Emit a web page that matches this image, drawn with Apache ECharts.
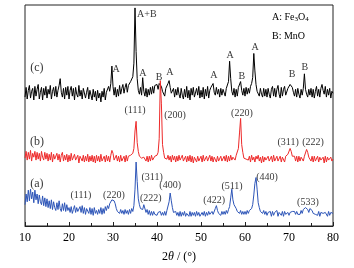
<!DOCTYPE html>
<html lang="en">
<head>
    <meta charset="UTF-8">
    <title>XRD</title>
    <script src="https://cdn.jsdelivr.net/npm/echarts@6/dist/echarts.min.js"></script>
    <style>
        html, body { margin: 0; padding: 0; background: #fff; }
    </style>
</head>
<body>
<div id="main" style="width: 354px;height:268px;"></div>
<script>
    // 2theta grid: 10..80 step 0.25
    const thetaStart = 10
    const thetaStep = 0.25

    // (a) blue, (b) red, (c) black - offset intensities
    const seriesA = [
        22,33,25,37,26,38,28,35,24,37,27,33,23,32,25,22,31,21,29,20,
        28,19,26,18,27,17,25,19,16,24,17,26,18,15,23,16,24,15,22,16,
        19,14,20,13,17,21,14,19,15,13,20,14,21,13,19,12,18,16,13,19,
        12,18,11,19,13,16,12,17,13,19,12,18,13,20,16,21,18,23,24,27,
        29,26,23,18,15,17,13,17,13,16,12,17,13,16,12,17,13,18,15,21,
        38,66,46,28,22,18,20,17,22,20,14,17,12,16,11,15,11,15,12,14,
        11,14,12,15,11,14,11,15,11,16,18,25,34,26,19,14,12,15,11,14,
        10,15,10,14,11,15,10,13,12,10,15,10,14,11,14,10,15,11,14,10,
        10,14,11,15,10,14,11,15,12,11,15,12,14,18,21,16,13,14,11,15,
        12,15,12,16,13,17,20,29,38,27,22,24,18,15,16,13,16,12,15,12,
        15,12,16,13,16,15,18,22,32,44,50,38,24,19,15,16,13,16,12,15,
        11,14,12,15,10,15,11,14,12,16,10,14,13,11,15,10,15,12,11,14,
        11,14,12,15,13,15,12,15,12,14,12,16,13,17,16,19,18,17,14,18,
        17,16,13,15,12,14,11,15,10,14,12,13,11,14,12,10,15,11,14,12,
        13
    ]
    const seriesB = [
        70,77,68,76,69,78,67,75,71,77,68,76,69,75,67,77,71,68,76,69,
        75,67,74,68,76,66,74,69,67,75,68,74,66,73,76,67,73,68,74,66,
        73,67,75,68,66,74,68,67,73,65,72,74,67,73,66,72,67,74,66,72,
        67,73,66,72,65,73,67,72,66,74,67,65,72,66,73,67,72,66,73,78,
        75,68,66,73,67,72,66,73,67,65,72,66,73,67,72,71,73,72,75,80,
        98,108,86,77,72,73,70,72,71,73,67,72,66,72,67,73,68,66,72,70,
        73,76,90,150,126,84,76,70,72,69,73,68,72,66,73,68,72,66,72,67,
        73,68,66,73,67,65,72,66,72,67,73,66,72,65,71,73,66,72,67,66,
        72,66,73,67,65,72,67,66,73,67,72,66,71,73,66,72,67,65,72,67,
        66,72,67,73,66,72,67,73,68,71,73,68,73,74,80,96,111,84,76,70,
        72,69,71,68,72,66,73,68,71,66,72,69,73,67,71,65,72,66,71,68,
        66,72,67,65,72,66,73,67,66,72,67,65,72,66,71,73,66,72,71,74,
        76,80,77,72,70,72,67,72,66,72,67,71,73,67,72,74,79,76,71,72,
        67,72,66,72,67,65,72,66,71,68,66,71,65,72,66,71,68,66,71,67,
        69
    ]
    const seriesC = [
        133,143,131,140,145,132,139,142,130,144,134,141,146,131,138,143,130,142,135,144,
        132,141,136,145,131,139,143,134,144,133,140,145,152,138,133,142,131,143,135,144,
        131,140,144,134,142,130,143,136,133,145,134,140,131,142,144,132,138,143,131,140,
        135,130,141,133,139,129,140,132,137,128,139,133,142,130,138,140,144,139,147,165,
        144,135,143,133,141,134,145,136,142,146,137,143,147,138,145,144,149,147,154,168,
        225,180,152,140,136,143,135,153,139,134,142,133,141,135,143,136,144,137,145,143,
        146,141,147,145,144,139,141,134,142,144,147,150,143,137,135,142,133,141,135,143,
        136,132,142,135,131,141,133,144,132,140,130,142,135,143,133,131,142,135,144,132,
        140,133,143,131,141,134,144,132,140,143,141,147,138,135,143,136,141,133,142,135,
        141,143,134,142,144,149,170,152,139,135,142,133,141,134,143,145,149,140,135,142,
        134,143,136,142,137,144,147,153,178,160,146,139,141,134,142,136,133,142,134,141,
        133,142,136,132,141,144,134,142,133,141,145,136,132,143,134,141,144,135,133,142,
        144,146,148,143,138,134,141,133,142,136,132,141,135,142,157,141,136,133,141,135,
        142,133,141,132,139,144,134,141,133,142,146,140,136,144,133,141,135,142,132,139,
        137
    ]

    const xTicks = [10, 20, 30, 40, 50, 60, 70, 80]

    // peak annotations: [2theta, level, text]
    const peakLabels = [
        [37.7, 218, 'A+B'], [30.7, 162, 'A'], [36.8, 157, 'A'], [40.45, 153, 'B'],
        [42.95, 159, 'A'], [52.95, 155, 'A'], [56.6, 176, 'A'], [59.3, 154, 'B'],
        [62.3, 184, 'A'], [70.7, 156, 'B'], [73.6, 164, 'B'],
        [35.0, 119, '(111)'], [44.1, 114, '(200)'], [59.3, 116, '(220)'],
        [69.8, 86, '(311)'], [75.45, 86, '(222)'],
        [22.7, 32, '(111)'], [30.2, 32, '(220)'], [38.9, 50, '(311)'],
        [38.6, 28, '(222)'], [43.0, 42, '(400)'], [53.0, 26, '(422)'],
        [57.05, 41, '(511)'], [65.0, 50, '(440)'], [74.3, 24, '(533)']
    ]
    const curveLabels = [[12.7, 163, '(c)'], [12.7, 87, '(b)'], [12.7, 43, '(a)']]

    const serif = "'Liberation Serif', 'Times New Roman', serif"

    function toPairs(arr) {
        return arr.map((v, i) => [thetaStart + i * thetaStep, v])
    }

    const option = {
        animation: false,
        backgroundColor: '#fff',
        grid: {
            left: 25, right: 21, top: 5, bottom: 35,
            show: true, borderColor: '#222', borderWidth: 1
        },
        xAxis: {
            type: 'value',
            min: 10, max: 80, interval: 10,
            name: '2{i|θ} / (°)',
            nameLocation: 'middle',
            nameGap: 25,
            nameTextStyle: {
                fontFamily: serif, fontSize: 12, color: '#000',
                rich: { i: { fontFamily: serif, fontSize: 12, fontStyle: 'italic', color: '#000' } }
            },
            axisLine: { show: true, lineStyle: { color: '#222', width: 1 } },
            axisTick: { show: true, inside: true, length: 4, lineStyle: { color: '#222' } },
            minorTick: { show: true, splitNumber: 2, length: 3, lineStyle: { color: '#222' } },
            splitLine: { show: false },
            axisLabel: {
                fontFamily: serif, fontSize: 12, color: '#000', margin: 6,
                formatter: v => xTicks.includes(v) ? String(v) : ''
            }
        },
        yAxis: {
            type: 'value',
            min: 0, max: 228,
            axisLine: { show: false },
            axisTick: { show: false },
            axisLabel: { show: false },
            splitLine: { show: false }
        },
        series: [
            {
                name: 'c', type: 'line', data: toPairs(seriesC), showSymbol: false,
                lineStyle: { color: '#000', width: 1 }
            },
            {
                name: 'b', type: 'line', data: toPairs(seriesB), showSymbol: false,
                lineStyle: { color: '#ee2a2a', width: 1 }
            },
            {
                name: 'a', type: 'line', data: toPairs(seriesA), showSymbol: false,
                lineStyle: { color: '#2d55b8', width: 1 }
            },
            {
                name: 'peaks', type: 'scatter', symbolSize: 0, data: peakLabels,
                label: {
                    show: true, position: 'inside', formatter: p => p.data[2],
                    fontFamily: serif, fontSize: 10, color: '#000'
                }
            },
            {
                name: 'curves', type: 'scatter', symbolSize: 0, data: curveLabels,
                label: {
                    show: true, position: 'inside', formatter: p => p.data[2],
                    fontFamily: serif, fontSize: 12, color: '#000'
                }
            }
        ],
        graphic: [
            {
                type: 'text', left: 272, top: 12,
                style: {
                    text: 'A: Fe{s|3}O{s|4}',
                    font: '10px ' + serif, fill: '#000',
                    rich: { s: { fontSize: 7, fontFamily: serif, verticalAlign: 'bottom', padding: [4, 0, 0, 0] } }
                }
            },
            {
                type: 'text', left: 272, top: 31,
                style: { text: 'B: MnO', font: '10px ' + serif, fill: '#000' }
            }
        ]
    }

    let myChart = echarts.init(document.getElementById('main'))
    myChart.setOption(option)
</script>
</body>
</html>
